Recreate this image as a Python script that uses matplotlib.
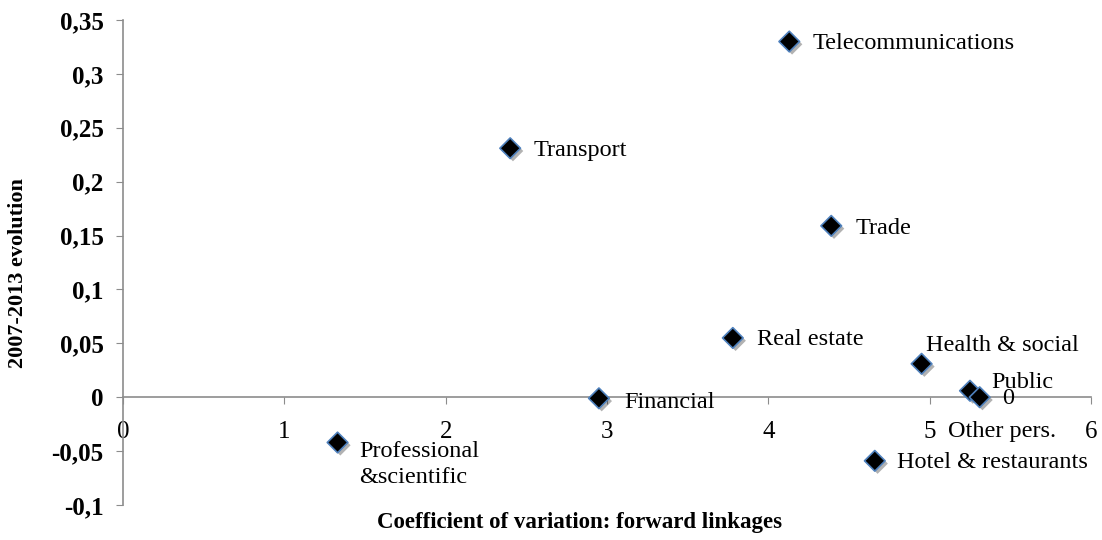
import matplotlib.pyplot as plt
from matplotlib.ticker import FuncFormatter
import matplotlib.patheffects as pe

# data
sectors = ["Telecommunications", "Transport", "Trade", "Real estate",
           "Health & social", "Public", "Other pers.", "Financial",
           "Professional\n&scientific", "Hotel & restaurants"]
cv_forward = [4.13, 2.40, 4.39, 3.78, 4.95, 5.25, 5.31, 2.95, 1.33, 4.66]
evolution = [0.330, 0.231, 0.159, 0.055, 0.031, 0.006, 0.000, -0.001, -0.042, -0.059]

# label offsets in pixels (dx, dy)
offsets = {
    "Telecommunications": (23, -2),
    "Transport": (23, -2),
    "Trade": (24, -3),
    "Real estate": (24, -2),
    "Health & social": (4, 18),
    "Public": (21, 8),
    "Other pers.": (-32, -34),
    "Financial": (25, -4),
    "Professional\n&scientific": (22, -22),
    "Hotel & restaurants": (22, -2),
}

plt.rcParams['font.family'] = ['Liberation Serif', 'DejaVu Serif']

fig = plt.figure(figsize=(11.02, 5.4), dpi=100)
ax = fig.add_axes([0.1116, 0.0648, 0.8784, 0.8982])

ax.scatter(cv_forward, evolution, marker='D', s=110, c='black',
           edgecolors='#4f81bd', linewidths=1.2, zorder=3,
           path_effects=[pe.SimplePatchShadow(offset=(2, -2), alpha=0.3),
                         pe.Normal()])

for name, x, y in zip(sectors, cv_forward, evolution):
    dx, dy = offsets[name]
    ax.annotate(name, (x, y), xytext=(dx, dy), textcoords='offset pixels',
                ha='left', va='center', fontsize=17.5, linespacing=1.3)

# stray data label next to "Other pers."
ax.annotate("0", (cv_forward[6], evolution[6]), xytext=(22, -1),
            textcoords='offset pixels', ha='left', va='center', fontsize=17.5)

ax.set_xlim(0, 6)
ax.set_ylim(-0.1, 0.35)
ax.set_xticks(range(0, 7))
ax.set_yticks([-0.1, -0.05, 0, 0.05, 0.1, 0.15, 0.2, 0.25, 0.3, 0.35])


def comma(v, pos):
    s = "{:g}".format(round(v, 2))
    return s.replace(".", ",")


ax.yaxis.set_major_formatter(FuncFormatter(comma))
ax.xaxis.set_major_formatter(FuncFormatter(lambda v, p: "{:d}".format(int(round(v)))))

for s in ['top', 'right']:
    ax.spines[s].set_visible(False)
ax.spines['bottom'].set_position(('data', 0))
for s in ['left', 'bottom']:
    ax.spines[s].set_color('#8c8c8c')
    ax.spines[s].set_linewidth(1.2)

ax.tick_params(axis='x', direction='out', length=5, color='#8c8c8c',
               labelsize=18, pad=12)
ax.tick_params(axis='y', direction='out', length=5, color='#8c8c8c',
               labelsize=18, pad=9)
for lab in ax.get_yticklabels():
    lab.set_fontweight('bold')

fig.text(0.526, 0.033, "Coefficient of variation: forward linkages",
         ha='center', va='center', fontsize=16.5, fontweight='bold')
fig.text(0.016, 0.495, "2007-2013 evolution", ha='center', va='center',
         rotation=90, fontsize=16, fontweight='bold')

fig.savefig("out.png", dpi=100)
